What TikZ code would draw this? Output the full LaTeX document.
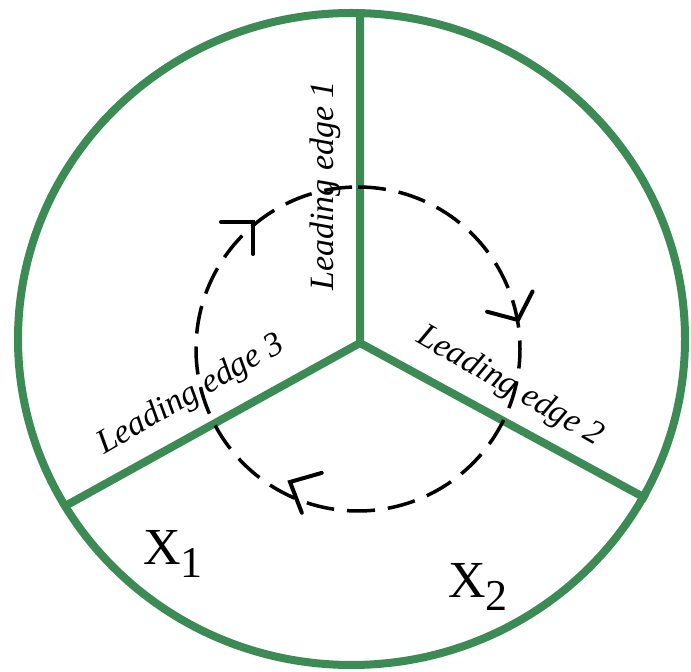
\documentclass[tikz,border=0pt]{standalone}
\usepackage{fontspec}
\setmainfont{Liberation Serif}
\definecolor{rimgreen}{RGB}{60,138,84}

\begin{document}
\begin{tikzpicture}[x=1pt,y=1pt,
  rim/.style={rimgreen,line width=8pt},
  spoke/.style={rimgreen,line width=8pt,line join=round},
  flow/.style={black,line width=3.5pt,dash pattern=on 28pt off 13pt},
  flowhead/.style={black,line width=4pt,line cap=round,line join=miter},
  edgelabel/.style={inner sep=0pt,font=\fontsize{34}{40}\selectfont\itshape},
  zonelabel/.style={inner sep=0pt,anchor=base west,font=\fontsize{52}{60}\selectfont}]
\useasboundingbox (0,0) rectangle (691,672);
% outer rim and the three leading edges
\draw[rim] (351.5,333) ellipse (333.5 and 326);
\coordinate (hub) at (360,329);
\coordinate (rim1) at (360,659);
\coordinate (rim2) at (647,173);
\coordinate (rim3) at (67,167);
\draw[spoke] (rim1) -- (hub) -- (rim2);
\draw[spoke] (hub) -- (rim3);
% rotation sense
\coordinate (flowc) at (358,323);
\draw[flow] (flowc) ++(90:162) arc (90:-270:162);
\coordinate (headA) at (253,450);
\coordinate (headB) at (518,352);
\coordinate (headC) at (290,190);
\draw[flowhead] (headA) ++(180:32) -- (headA) -- ++(270:32);
\draw[flowhead] (headB) ++(165:32) -- (headB) -- ++(63:32);
\draw[flowhead] (headC) ++(16:33) -- (headC) -- ++(291:33);
% labels
\node[edgelabel,rotate=90] (lab1) at (325,486) {Leading edge 1};
\node[edgelabel,rotate=-30] (lab2) at (510,285) {Leading edge 2};
\node[edgelabel,rotate=30] (lab3) at (191,277) {Leading edge 3};
\node[zonelabel] (x1) at (143,107) {X\raisebox{-13pt}{\fontsize{44}{50}\selectfont 1}};
\node[zonelabel] (x2) at (448,74) {X\raisebox{-13pt}{\fontsize{44}{50}\selectfont 2}};
\end{tikzpicture}
\end{document}
